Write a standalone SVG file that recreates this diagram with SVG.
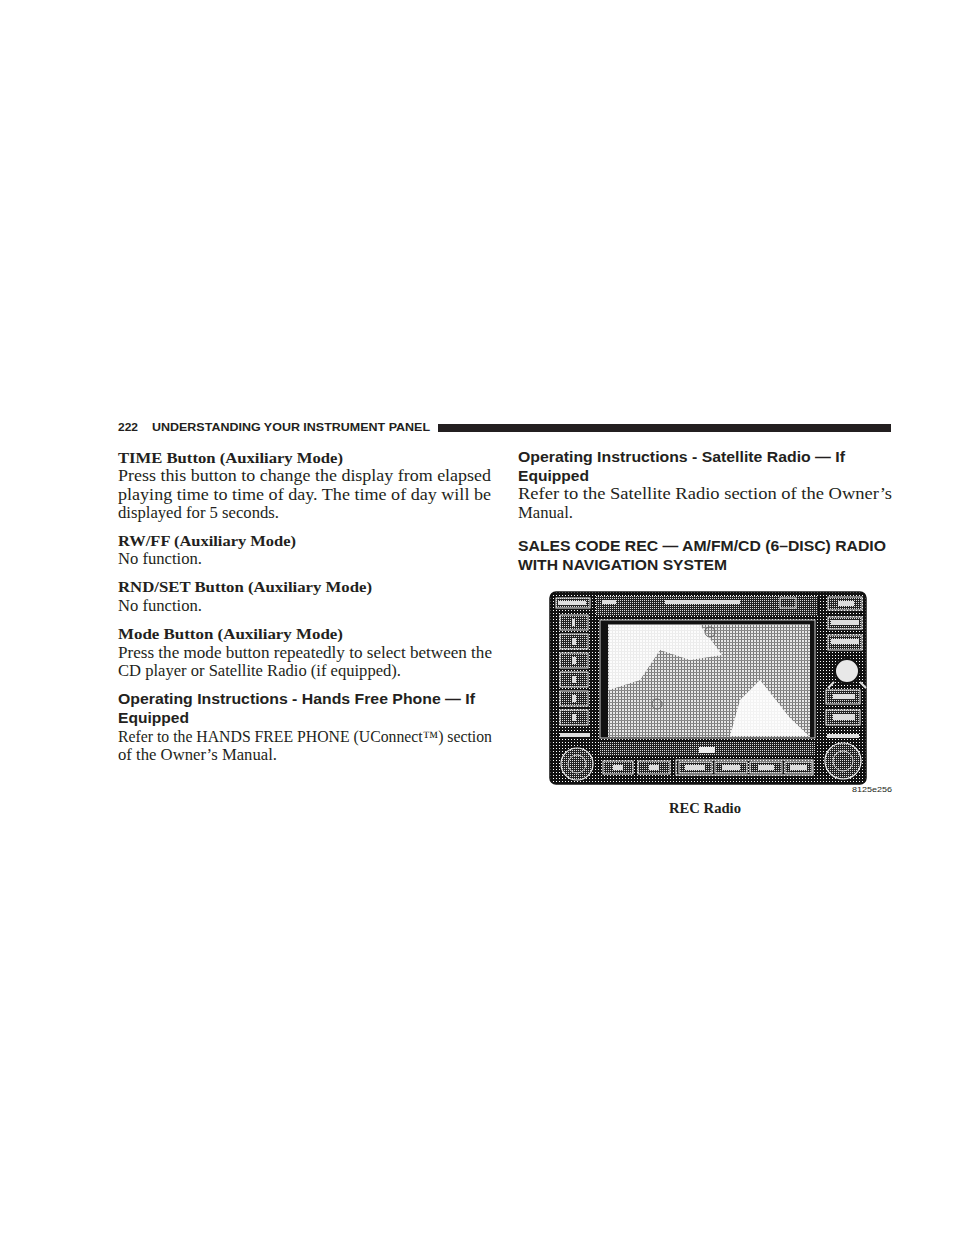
<svg xmlns="http://www.w3.org/2000/svg" width="954" height="1235" viewBox="0 0 954 1235">
<style>
.body{font-family:"Liberation Serif","DejaVu Serif",serif;font-size:16px;fill:#231f20}
.bh{font-family:"Liberation Serif","DejaVu Serif",serif;font-size:15.5px;font-weight:bold;fill:#231f20}
.sh{font-family:"Liberation Sans","DejaVu Sans",sans-serif;font-size:14.5px;font-weight:bold;fill:#231f20}
.hdr{font-family:"Liberation Sans","DejaVu Sans",sans-serif;font-size:11px;font-weight:bold;fill:#231f20}
.btn{fill:url(#mid);stroke:#eee;stroke-width:1}
.lbl{fill:#ddd}
</style>
<defs>
<pattern id="dark" width="3" height="3" patternUnits="userSpaceOnUse">
<rect width="3" height="3" fill="#111"/><rect x="1" y="1" width="1" height="1" fill="#fff"/>
</pattern>
<pattern id="mid" width="2" height="2" patternUnits="userSpaceOnUse">
<rect width="2" height="2" fill="#222"/><rect x="0" y="0" width="1" height="1" fill="#ddd"/>
</pattern>
<pattern id="light" width="3" height="3" patternUnits="userSpaceOnUse">
<rect width="3" height="3" fill="#e8e8e8"/><rect x="0" y="0" width="1" height="3" fill="#777"/><rect x="0" y="0" width="3" height="1" fill="#888"/>
</pattern>
</defs>
<rect width="954" height="1235" fill="#fff"/>

<g id="header">
<text class="hdr" x="118" y="431" textLength="20" lengthAdjust="spacingAndGlyphs">222</text>
<text class="hdr" x="152" y="431" textLength="278" lengthAdjust="spacingAndGlyphs">UNDERSTANDING YOUR INSTRUMENT PANEL</text>
<rect x="438" y="424" width="453" height="8" fill="#231f20"/>
</g>

<g id="left-column">
<text class="bh" x="118" y="463" textLength="225" lengthAdjust="spacingAndGlyphs">TIME Button (Auxiliary Mode)</text>
<text class="body" x="118" y="481" textLength="373" lengthAdjust="spacingAndGlyphs">Press this button to change the display from elapsed</text>
<text class="body" x="118" y="500" textLength="373" lengthAdjust="spacingAndGlyphs">playing time to time of day. The time of day will be</text>
<text class="body" x="118" y="518" textLength="161" lengthAdjust="spacingAndGlyphs">displayed for 5 seconds.</text>
<text class="bh" x="118" y="546" textLength="178" lengthAdjust="spacingAndGlyphs">RW/FF (Auxiliary Mode)</text>
<text class="body" x="118" y="564" textLength="84" lengthAdjust="spacingAndGlyphs">No function.</text>
<text class="bh" x="118" y="592" textLength="254" lengthAdjust="spacingAndGlyphs">RND/SET Button (Auxiliary Mode)</text>
<text class="body" x="118" y="611" textLength="84" lengthAdjust="spacingAndGlyphs">No function.</text>
<text class="bh" x="118" y="639" textLength="225" lengthAdjust="spacingAndGlyphs">Mode Button (Auxiliary Mode)</text>
<text class="body" x="118" y="658" textLength="374" lengthAdjust="spacingAndGlyphs">Press the mode button repeatedly to select between the</text>
<text class="body" x="118" y="676" textLength="283" lengthAdjust="spacingAndGlyphs">CD player or Satellite Radio (if equipped).</text>
<text class="sh" x="118" y="704" textLength="357" lengthAdjust="spacingAndGlyphs">Operating Instructions - Hands Free Phone — If</text>
<text class="sh" x="118" y="723" textLength="71" lengthAdjust="spacingAndGlyphs">Equipped</text>
<text class="body" x="118" y="742" textLength="374" lengthAdjust="spacingAndGlyphs">Refer to the HANDS FREE PHONE (UConnect™) section</text>
<text class="body" x="118" y="760" textLength="159" lengthAdjust="spacingAndGlyphs">of the Owner’s Manual.</text>
</g>

<g id="right-column">
<text class="sh" x="518" y="462" textLength="327" lengthAdjust="spacingAndGlyphs">Operating Instructions - Satellite Radio — If</text>
<text class="sh" x="518" y="481" textLength="71" lengthAdjust="spacingAndGlyphs">Equipped</text>
<text class="body" x="518" y="499" textLength="374" lengthAdjust="spacingAndGlyphs">Refer to the Satellite Radio section of the Owner’s</text>
<text class="body" x="518" y="518" textLength="55" lengthAdjust="spacingAndGlyphs">Manual.</text>
<text class="sh" x="518" y="551" textLength="368" lengthAdjust="spacingAndGlyphs">SALES CODE REC — AM/FM/CD (6–DISC) RADIO</text>
<text class="sh" x="518" y="570" textLength="209" lengthAdjust="spacingAndGlyphs">WITH NAVIGATION SYSTEM</text>
</g>

<g id="radio">
<rect x="550" y="592" width="316" height="192" rx="6" fill="url(#dark)" stroke="#111" stroke-width="1.5"/>
<rect x="596" y="596" width="222" height="20" fill="url(#mid)"/>
<rect x="556" y="598" width="34" height="10" class="btn"/>
<rect x="558" y="601" width="28" height="4" class="lbl"/>
<rect x="602" y="600" width="14" height="4" class="lbl"/>
<rect x="665" y="600" width="75" height="4" class="lbl"/>
<rect x="780" y="598" width="16" height="10" fill="none" stroke="#ddd"/>
<rect x="600" y="620" width="215" height="118" fill="#111" stroke="#ccc" stroke-width="1"/>
<rect x="608" y="624" width="202" height="113" fill="url(#light)"/>
<polygon points="609,625 700,625 722,655 690,660 660,650 640,680 609,690" fill="#fff" opacity="0.85"/>
<polygon points="740,700 760,680 790,718 809,736 730,736" fill="#fff" opacity="0.9"/>
<circle cx="710" cy="632" r="5" fill="none" stroke="#666"/>
<circle cx="657" cy="704" r="5" fill="none" stroke="#666"/>
<rect x="600" y="742" width="215" height="14" fill="url(#mid)"/>
<rect x="699" y="747" width="16" height="6" fill="#eee"/>
<rect x="560" y="615" width="28" height="15" class="btn"/>
<rect x="560" y="634" width="28" height="15" class="btn"/>
<rect x="560" y="653" width="28" height="15" class="btn"/>
<rect x="560" y="672" width="28" height="15" class="btn"/>
<rect x="560" y="691" width="28" height="15" class="btn"/>
<rect x="560" y="710" width="28" height="15" class="btn"/>
<rect x="572" y="619" width="3" height="7" class="lbl"/>
<rect x="572" y="638" width="4" height="7" class="lbl"/>
<rect x="572" y="657" width="4" height="7" class="lbl"/>
<rect x="572" y="676" width="4" height="7" class="lbl"/>
<rect x="572" y="695" width="4" height="7" class="lbl"/>
<rect x="572" y="714" width="4" height="7" class="lbl"/>
<rect x="560" y="733" width="30" height="4" class="lbl"/>
<circle cx="577" cy="764" r="16" fill="url(#mid)" stroke="#eee" stroke-width="1.2"/>
<circle cx="577" cy="764" r="9" fill="none" stroke="#ccc"/>
<rect x="828" y="597" width="34" height="13" class="btn"/>
<rect x="838" y="601" width="16" height="5" class="lbl"/>
<rect x="828" y="617" width="34" height="12" class="btn"/>
<rect x="831" y="620" width="28" height="5" class="lbl"/>
<rect x="828" y="635" width="34" height="15" class="btn"/>
<rect x="831" y="639" width="28" height="5" class="lbl"/>
<circle cx="847" cy="671" r="12" fill="#e8e8e8" stroke="#111" stroke-width="2"/>
<path d="M828 688 L834 682 M866 688 L860 682" stroke="#ddd" stroke-width="2"/>
<rect x="826" y="690" width="34" height="14" class="btn"/>
<rect x="833" y="694" width="22" height="5" class="lbl"/>
<rect x="826" y="710" width="34" height="15" class="btn"/>
<rect x="833" y="714" width="22" height="6" class="lbl"/>
<rect x="827" y="734" width="32" height="4" class="lbl"/>
<circle cx="843" cy="761" r="18" fill="url(#mid)" stroke="#eee" stroke-width="1.2"/>
<circle cx="843" cy="761" r="10" fill="none" stroke="#ccc"/>
<rect x="603" y="761" width="30" height="13" class="btn"/>
<rect x="613" y="765" width="10" height="5" class="lbl"/>
<rect x="638" y="761" width="32" height="13" class="btn"/>
<rect x="649" y="765" width="10" height="5" class="lbl"/>
<rect x="676" y="760" width="137" height="15" fill="none" stroke="#eee"/>
<rect x="679" y="762" width="33" height="11" class="btn"/>
<rect x="685" y="765" width="20" height="5" class="lbl"/>
<rect x="715" y="762" width="32" height="11" class="btn"/>
<rect x="722" y="765" width="18" height="5" class="lbl"/>
<rect x="750" y="762" width="32" height="11" class="btn"/>
<rect x="758" y="765" width="16" height="5" class="lbl"/>
<rect x="785" y="762" width="27" height="11" class="btn"/>
<rect x="790" y="765" width="17" height="5" class="lbl"/>
</g>

<g id="caption">
<text x="852" y="792" font-family="Liberation Sans, DejaVu Sans, sans-serif" font-size="8" fill="#231f20" textLength="40" lengthAdjust="spacingAndGlyphs">8125e256</text>
<text class="bh" x="669" y="813" textLength="72" lengthAdjust="spacingAndGlyphs">REC Radio</text>
</g>
</svg>
